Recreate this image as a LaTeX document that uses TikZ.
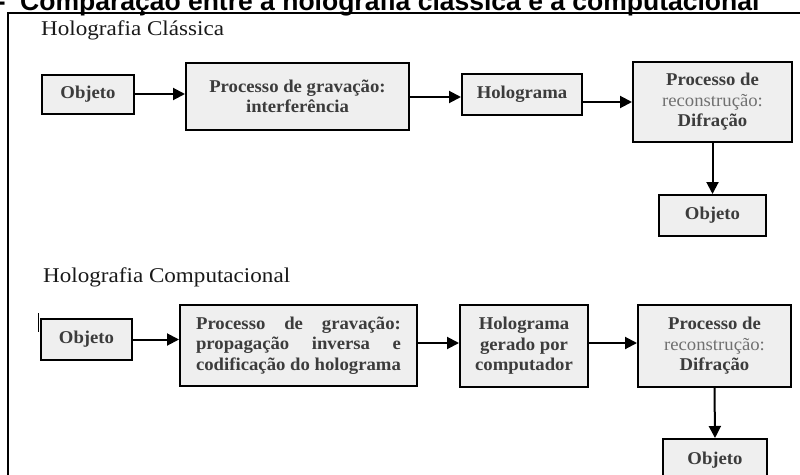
\documentclass[tikz,border=0pt]{standalone}
\usepackage{fontspec}
\usepackage{calc}
\setmainfont{Liberation Serif}[FakeStretch=1.1]
\newfontfamily\boxserif{Liberation Serif}[FakeStretch=1.04]
\newfontfamily\titlesans{Liberation Sans}
\usetikzlibrary{arrows.meta}
\definecolor{boxgray}{HTML}{EFEFEF}
\definecolor{txtgray}{HTML}{3C3C3C}
\definecolor{litegray}{HTML}{707070}
\newcommand{\jline}[1]{\makebox[\widthof{codificação do holograma}][s]{#1}}

\begin{document}
\begin{tikzpicture}[x=1pt,y=-1pt,
  blk/.style={rectangle,draw=black,line width=2pt,fill=boxgray,text=txtgray,
    inner sep=0pt,align=center,font=\boxserif\bfseries\fontsize{18}{20.5}\selectfont},
  heading/.style={anchor=base west,inner sep=0pt,text=black!90,font=\fontsize{21}{24}\selectfont},
  flow/.style={line width=2pt,-{Triangle[length=12pt,width=12pt]}}
]
\useasboundingbox (0,0) rectangle (800,474);
\clip (0,0) rectangle (800,474);
% ---- caption (cut off at the top)
\node[anchor=base east,inner sep=0pt,font=\titlesans\bfseries\fontsize{26.5}{30}\selectfont] (dash) at (6,10) {-};
\node[anchor=base west,inner sep=0pt,font=\titlesans\bfseries\fontsize{26.5}{30}\selectfont] (caption) at (20,10)
  {Comparação entre a holografia clássica e a computacional};
\draw[line width=2pt] (8,13) rectangle (812,490);
% ---- classic holography
\node[heading] (hdA) at (41,35) {Holografia Clássica};
\node[blk,minimum width=92pt,minimum height=39pt] (objA) at (88,94) {Objeto};
\node[blk,minimum width=223pt,minimum height=67pt,anchor=north] (gravA) at (297.5,62)
  {Processo de gravação:\\ interferência};
\node[blk,minimum width=120pt,minimum height=41pt] (holoA) at (522,94.5) {Holograma};
\node[blk,minimum width=159pt,minimum height=80pt] (recA) at (712.5,102)
  {Processo de\\ {\mdseries\color{litegray}reconstrução:}\\ Difração};
\node[blk,minimum width=107pt,minimum height=41pt] (outA) at (712.5,215.5) {Objeto};
\draw[flow] (objA.east) -- (objA.east -| gravA.west);
\draw[flow] (holoA.west -| gravA.east) ++(0,2.5) -- ([yshift=-2.5pt]holoA.west);
\draw[flow] (recA.west -| holoA.east) -- (recA.west);
\draw[flow] (recA.south) -- (outA.north);
% ---- computational holography
\node[heading] (hdB) at (43,282) {Holografia Computacional};
\draw[line width=1pt] (38,313) -- (38,332);
\node[blk,minimum width=91pt,minimum height=41pt] (objB) at (86.5,339.5) {Objeto};
\node[blk,minimum width=237pt,minimum height=81pt] (gravB) at (298.5,345.5)
  {\jline{Processo de gravação:}\\ \jline{propagação inversa e}\\ codificação do holograma};
\node[blk,minimum width=128pt,minimum height=82pt] (holoB) at (524,346)
  {Holograma\\ gerado por\\ computador};
\node[blk,minimum width=153pt,minimum height=82pt] (recB) at (714.5,346)
  {Processo de\\ {\mdseries\color{litegray}reconstrução:}\\ Difração};
\node[blk,minimum width=104pt,minimum height=42pt,anchor=north] (outB) at (715,438) {Objeto};
\draw[flow] (objB.east) -- (objB.east -| gravB.west);
\draw[flow] (holoB.west -| gravB.east) ++(0,-3) -- ([yshift=3pt]holoB.west);
\draw[flow] (recB.west -| holoB.east) ++(0,-3) -- ([yshift=3pt]recB.west);
\draw[flow] (recB.south) -- (outB.north);
\end{tikzpicture}
\end{document}
